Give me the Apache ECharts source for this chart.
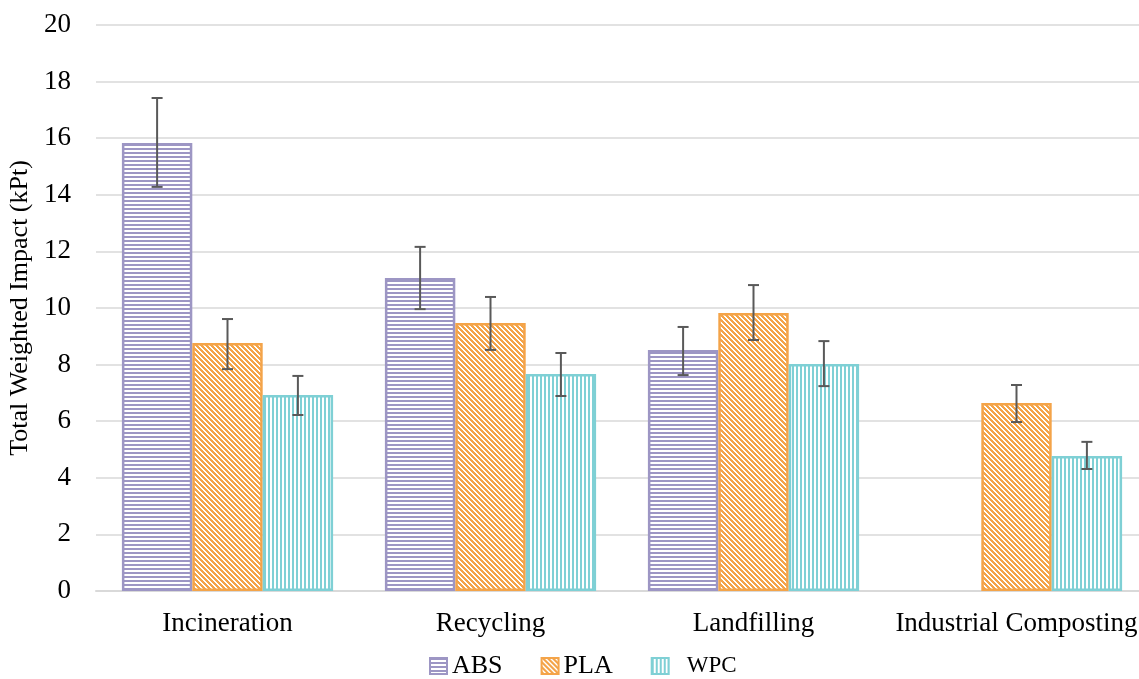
<!DOCTYPE html>
<html>
<head>
<meta charset="utf-8">
<script src="https://cdn.jsdelivr.net/npm/echarts@6/dist/echarts.min.js"></script>
<style>
  html, body { margin: 0; padding: 0; background: #fff; }
  #chart { width: 1139px; height: 679px; }
</style>
</head>
<body>
<div id="chart"></div>
<script>
// End-of-life scenarios and total weighted impact (kPt) per material
const categories = ['Incineration', 'Recycling', 'Landfilling', 'Industrial Composting'];
const yTicks = [0, 2, 4, 6, 8, 10, 12, 14, 16, 18, 20];

const absValues = [15.83, 11.06, 8.52, null];
const plaValues = [8.76, 9.47, 9.82, 6.64];
const wpcValues = [6.93, 7.67, 8.02, 4.77];

// Error-bar limits (low / high)
const absLow  = [14.28, 9.96, 7.63, null];
const absHigh = [17.42, 12.16, 9.33, null];
const plaLow  = [7.84, 8.52, 8.87, 5.97];
const plaHigh = [9.61, 10.39, 10.81, 7.28];
const wpcLow  = [6.22, 6.89, 7.24, 4.31];
const wpcHigh = [7.60, 8.41, 8.83, 5.27];

const FONT = '"Liberation Serif", "Times New Roman", serif';
const CAT_GAP = 0.197;

// Small repeating hatch tiles
function hatch(kind, color) {
  const size = kind === 'diag' ? 5 : 4;
  const c = document.createElement('canvas');
  c.width = size; c.height = size;
  const g = c.getContext('2d');
  g.fillStyle = '#ffffff';
  g.fillRect(0, 0, size, size);
  g.fillStyle = color;
  for (let y = 0; y < size; y++) {
    for (let x = 0; x < size; x++) {
      let on = false;
      if (kind === 'h') on = y < 2;
      else if (kind === 'v') on = x < 2;
      else on = ((x - y) % size + size) % size < 3;
      if (on) g.fillRect(x, y, 1, 1);
    }
  }
  return { image: c, repeat: 'repeat' };
}

const materials = [
  { name: 'ABS', color: '#9d96c4', kind: 'h', values: absValues, low: absLow, high: absHigh },
  { name: 'PLA', color: '#f4a449', kind: 'diag', values: plaValues, low: plaLow, high: plaHigh },
  { name: 'WPC', color: '#7fd0d5', kind: 'v', values: wpcValues, low: wpcLow, high: wpcHigh }
];

const barSeries = materials.map(m => ({
  name: m.name,
  type: 'bar',
  barGap: '0%',
  barCategoryGap: (CAT_GAP * 100) + '%',
  data: m.values.map(v => (v == null ? '-' : v)),
  itemStyle: { color: hatch(m.kind, m.color), borderColor: m.color, borderWidth: 2.5 },
  emphasis: { disabled: true },
  z: 2
}));

const errorSeries = materials.map((m, si) => ({
  name: m.name + ' range',
  type: 'custom',
  z: 5,
  silent: true,
  encode: { x: 0, y: [1, 2] },
  data: m.low.map((lo, i) => (lo == null ? null : [i, lo, m.high[i]])).filter(d => d),
  renderItem: function (params, api) {
    const band = api.size([1, 0])[0];
    const barW = band * (1 - CAT_GAP) / 3;
    const off = (si - 1) * barW;
    const lo = api.coord([api.value(0), api.value(1)]);
    const hi = api.coord([api.value(0), api.value(2)]);
    const x = lo[0] + off;
    const cap = 5.5;
    const style = { stroke: '#595959', lineWidth: 2 };
    return {
      type: 'group',
      children: [
        { type: 'line', shape: { x1: x, y1: lo[1], x2: x, y2: hi[1] }, style },
        { type: 'line', shape: { x1: x - cap, y1: lo[1], x2: x + cap, y2: lo[1] }, style },
        { type: 'line', shape: { x1: x - cap, y1: hi[1], x2: x + cap, y2: hi[1] }, style }
      ]
    };
  }
}));

const chart = echarts.init(document.getElementById('chart'), null, { renderer: 'canvas' });
chart.setOption({
  animation: false,
  backgroundColor: '#ffffff',
  textStyle: { fontFamily: FONT, color: '#000' },
  grid: { left: 96, right: -9, top: 25, bottom: 88, containLabel: false, outerBoundsMode: 'none' },
  legend: {
    data: ['ABS', 'PLA', 'WPC'],
    left: 429,
    top: 653,
    padding: 0,
    itemWidth: 17,
    itemHeight: 16,
    itemGap: 38,
    icon: 'rect',
    textStyle: {
      fontFamily: FONT,
      color: '#000',
      rich: {
        big: { fontFamily: FONT, fontSize: 26, color: '#000' },
        small: { fontFamily: FONT, fontSize: 23, color: '#000', padding: [0, 0, 0, 13] }
      }
    },
    formatter: name => (name === 'WPC' ? '{small|' + name + '}' : '{big|' + name + '}')
  },
  xAxis: {
    type: 'category',
    data: categories,
    axisTick: { show: false },
    axisLine: { lineStyle: { color: '#d9d9d9', width: 2 } },
    axisLabel: { fontFamily: FONT, fontSize: 27, color: '#000', margin: 19, interval: 0 }
  },
  yAxis: {
    type: 'value',
    min: yTicks[0],
    max: yTicks[yTicks.length - 1],
    interval: yTicks[1] - yTicks[0],
    name: 'Total Weighted Impact (kPt)',
    nameLocation: 'middle',
    nameGap: 60,
    nameTextStyle: { fontFamily: FONT, fontSize: 26, color: '#000' },
    axisLine: { show: false },
    axisTick: { show: false },
    splitLine: { lineStyle: { color: '#d9d9d9', width: 1.5 } },
    axisLabel: { fontFamily: FONT, fontSize: 27, color: '#000', margin: 25 }
  },
  series: barSeries.concat(errorSeries)
});
</script>
</body>
</html>
